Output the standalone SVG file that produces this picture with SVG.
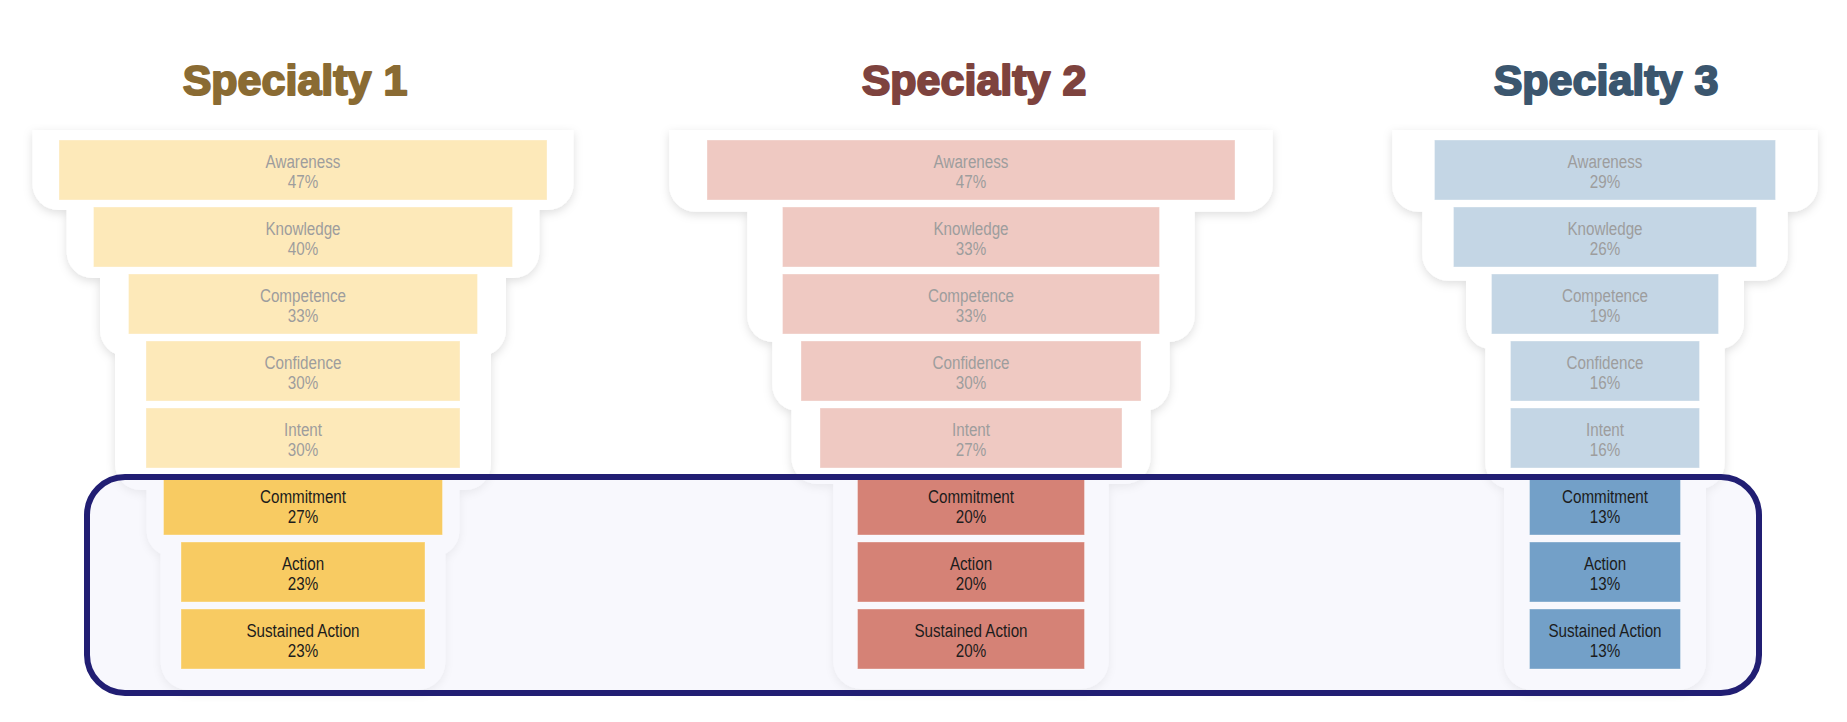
<svg xmlns="http://www.w3.org/2000/svg" width="1847" height="722" viewBox="0 0 1847 722">
<style>
.title{font-family:"Liberation Sans",Arial,sans-serif;font-weight:bold;font-size:43px;text-anchor:middle;stroke-width:2px;stroke-linejoin:round}
.t{font-family:"Liberation Sans",Arial,sans-serif;font-size:19px;text-anchor:middle}
.pt{fill:#9d9d9d}
.dt{fill:#1c1c1c}
.tier{fill:#ffffff}
.bar{stroke:#ffffff;stroke-opacity:0.35;stroke-width:1}
.y1{fill:#fde9b9}.y2{fill:#f8cb62}
.r1{fill:#efc9c2}.r2{fill:#d58276}
.b1{fill:#c4d6e5}.b2{fill:#73a0c8}
</style>
<defs>
<filter id="sh" x="-10%" y="-10%" width="120%" height="125%">
<feDropShadow dx="0" dy="3" stdDeviation="5" flood-color="#000" flood-opacity="0.13"/>
</filter>
</defs>
<rect width="1847" height="722" fill="#ffffff"/>

<g id="titles">
<text class="title" x="295" y="95" fill="#8a6b33" stroke="#8a6b33">Specialty 1</text>
<text class="title" x="974" y="95" fill="#7e433e" stroke="#7e433e">Specialty 2</text>
<text class="title" x="1606" y="95" fill="#3b566e" stroke="#3b566e">Specialty 3</text>
</g>

<g id="funnel-shapes" filter="url(#sh)">
<path class="tier" d="M32.5 130H573.5V184A26 26 0 0 1 547.5 210H58.5A26 26 0 0 1 32.5 184Z"/>
<path class="tier" d="M66.7 130H539.3V252A26 26 0 0 1 513.3 278H92.7A26 26 0 0 1 66.7 252Z"/>
<path class="tier" d="M100 130H506V330A26 26 0 0 1 480 356H126A26 26 0 0 1 100 330Z"/>
<path class="tier" d="M115 130H491V464A26 26 0 0 1 465 490H141A26 26 0 0 1 115 464Z"/>
<path class="tier" d="M146.7 130H459.3V530.7A26 26 0 0 1 433.3 556.7H172.7A26 26 0 0 1 146.7 530.7Z"/>
<path class="tier" d="M160.7 130H445.3V662A28 28 0 0 1 417.3 690H188.7A28 28 0 0 1 160.7 662Z"/>

<path class="tier" d="M669.3 130H1272.7V185.7A26 26 0 0 1 1246.7 211.7H695.3A26 26 0 0 1 669.3 185.7Z"/>
<path class="tier" d="M747.3 130H1194.7V316A26 26 0 0 1 1168.7 342H773.3A26 26 0 0 1 747.3 316Z"/>
<path class="tier" d="M772.3 130H1169.7V385A26 26 0 0 1 1143.7 411H798.3A26 26 0 0 1 772.3 385Z"/>
<path class="tier" d="M791.5 130H1150.5V458A26 26 0 0 1 1124.5 484H817.5A26 26 0 0 1 791.5 458Z"/>
<path class="tier" d="M833.3 130H1108.7V661A28 28 0 0 1 1080.7 689H861.3A28 28 0 0 1 833.3 661Z"/>

<path class="tier" d="M1392.3 130H1817.7V185.7A26 26 0 0 1 1791.7 211.7H1418.3A26 26 0 0 1 1392.3 185.7Z"/>
<path class="tier" d="M1422.3 130H1787.7V254.7A26 26 0 0 1 1761.7 280.7H1448.3A26 26 0 0 1 1422.3 254.7Z"/>
<path class="tier" d="M1466 130H1744V323.3A26 26 0 0 1 1718 349.3H1492A26 26 0 0 1 1466 323.3Z"/>
<path class="tier" d="M1485.3 130H1724.7V463A26 26 0 0 1 1698.7 489H1511.3A26 26 0 0 1 1485.3 463Z"/>
<path class="tier" d="M1504 130H1706V662A28 28 0 0 1 1678 690H1532A28 28 0 0 1 1504 662Z"/>
</g>

<g id="funnel1-upper">
<rect class="bar y1" x="59" y="140" width="488" height="60"/>
<text class="t pt" transform="translate(303 0) scale(0.8 1)"><tspan x="0" y="167.7">Awareness</tspan><tspan x="0" y="188.3">47%</tspan></text>
<rect class="bar y1" x="93.5" y="207" width="419" height="60"/>
<text class="t pt" transform="translate(303 0) scale(0.8 1)"><tspan x="0" y="234.7">Knowledge</tspan><tspan x="0" y="255.3">40%</tspan></text>
<rect class="bar y1" x="128.5" y="274" width="349" height="60"/>
<text class="t pt" transform="translate(303 0) scale(0.8 1)"><tspan x="0" y="301.7">Competence</tspan><tspan x="0" y="322.3">33%</tspan></text>
<rect class="bar y1" x="146" y="341" width="314" height="60"/>
<text class="t pt" transform="translate(303 0) scale(0.8 1)"><tspan x="0" y="368.7">Confidence</tspan><tspan x="0" y="389.3">30%</tspan></text>
<rect class="bar y1" x="146" y="408" width="314" height="60"/>
<text class="t pt" transform="translate(303 0) scale(0.8 1)"><tspan x="0" y="435.7">Intent</tspan><tspan x="0" y="456.3">30%</tspan></text>
</g>

<g id="funnel2-upper">
<rect class="bar r1" x="707" y="140" width="528" height="60"/>
<text class="t pt" transform="translate(971 0) scale(0.8 1)"><tspan x="0" y="167.7">Awareness</tspan><tspan x="0" y="188.3">47%</tspan></text>
<rect class="bar r1" x="782.5" y="207" width="377" height="60"/>
<text class="t pt" transform="translate(971 0) scale(0.8 1)"><tspan x="0" y="234.7">Knowledge</tspan><tspan x="0" y="255.3">33%</tspan></text>
<rect class="bar r1" x="782.5" y="274" width="377" height="60"/>
<text class="t pt" transform="translate(971 0) scale(0.8 1)"><tspan x="0" y="301.7">Competence</tspan><tspan x="0" y="322.3">33%</tspan></text>
<rect class="bar r1" x="801" y="341" width="340" height="60"/>
<text class="t pt" transform="translate(971 0) scale(0.8 1)"><tspan x="0" y="368.7">Confidence</tspan><tspan x="0" y="389.3">30%</tspan></text>
<rect class="bar r1" x="820" y="408" width="302" height="60"/>
<text class="t pt" transform="translate(971 0) scale(0.8 1)"><tspan x="0" y="435.7">Intent</tspan><tspan x="0" y="456.3">27%</tspan></text>
</g>

<g id="funnel3-upper">
<rect class="bar b1" x="1434.5" y="140" width="341" height="60"/>
<text class="t pt" transform="translate(1605 0) scale(0.8 1)"><tspan x="0" y="167.7">Awareness</tspan><tspan x="0" y="188.3">29%</tspan></text>
<rect class="bar b1" x="1453.5" y="207" width="303" height="60"/>
<text class="t pt" transform="translate(1605 0) scale(0.8 1)"><tspan x="0" y="234.7">Knowledge</tspan><tspan x="0" y="255.3">26%</tspan></text>
<rect class="bar b1" x="1491.5" y="274" width="227" height="60"/>
<text class="t pt" transform="translate(1605 0) scale(0.8 1)"><tspan x="0" y="301.7">Competence</tspan><tspan x="0" y="322.3">19%</tspan></text>
<rect class="bar b1" x="1510.5" y="341" width="189" height="60"/>
<text class="t pt" transform="translate(1605 0) scale(0.8 1)"><tspan x="0" y="368.7">Confidence</tspan><tspan x="0" y="389.3">16%</tspan></text>
<rect class="bar b1" x="1510.5" y="408" width="189" height="60"/>
<text class="t pt" transform="translate(1605 0) scale(0.8 1)"><tspan x="0" y="435.7">Intent</tspan><tspan x="0" y="456.3">16%</tspan></text>
</g>

<g id="highlight-frame-fill">
<rect x="87" y="477" width="1672" height="216" rx="38" fill="#f1f1fb" fill-opacity="0.5"/>
</g>

<g id="funnel1-lower">
<rect class="bar y2" x="163.5" y="475" width="279" height="60"/>
<text class="t dt" transform="translate(303 0) scale(0.8 1)"><tspan x="0" y="502.7">Commitment</tspan><tspan x="0" y="523.3">27%</tspan></text>
<rect class="bar y2" x="181" y="542" width="244" height="60"/>
<text class="t dt" transform="translate(303 0) scale(0.8 1)"><tspan x="0" y="569.7">Action</tspan><tspan x="0" y="590.3">23%</tspan></text>
<rect class="bar y2" x="181" y="609" width="244" height="60"/>
<text class="t dt" transform="translate(303 0) scale(0.8 1)"><tspan x="0" y="636.7">Sustained Action</tspan><tspan x="0" y="657.3">23%</tspan></text>
</g>

<g id="funnel2-lower">
<rect class="bar r2" x="857.5" y="475" width="227" height="60"/>
<text class="t dt" transform="translate(971 0) scale(0.8 1)"><tspan x="0" y="502.7">Commitment</tspan><tspan x="0" y="523.3">20%</tspan></text>
<rect class="bar r2" x="857.5" y="542" width="227" height="60"/>
<text class="t dt" transform="translate(971 0) scale(0.8 1)"><tspan x="0" y="569.7">Action</tspan><tspan x="0" y="590.3">20%</tspan></text>
<rect class="bar r2" x="857.5" y="609" width="227" height="60"/>
<text class="t dt" transform="translate(971 0) scale(0.8 1)"><tspan x="0" y="636.7">Sustained Action</tspan><tspan x="0" y="657.3">20%</tspan></text>
</g>

<g id="funnel3-lower">
<rect class="bar b2" x="1529.5" y="475" width="151" height="60"/>
<text class="t dt" transform="translate(1605 0) scale(0.8 1)"><tspan x="0" y="502.7">Commitment</tspan><tspan x="0" y="523.3">13%</tspan></text>
<rect class="bar b2" x="1529.5" y="542" width="151" height="60"/>
<text class="t dt" transform="translate(1605 0) scale(0.8 1)"><tspan x="0" y="569.7">Action</tspan><tspan x="0" y="590.3">13%</tspan></text>
<rect class="bar b2" x="1529.5" y="609" width="151" height="60"/>
<text class="t dt" transform="translate(1605 0) scale(0.8 1)"><tspan x="0" y="636.7">Sustained Action</tspan><tspan x="0" y="657.3">13%</tspan></text>
</g>

<g id="highlight-frame">
<rect x="87" y="477" width="1672" height="216" rx="38" fill="none" stroke="#211e73" stroke-width="6"/>
</g>
</svg>
